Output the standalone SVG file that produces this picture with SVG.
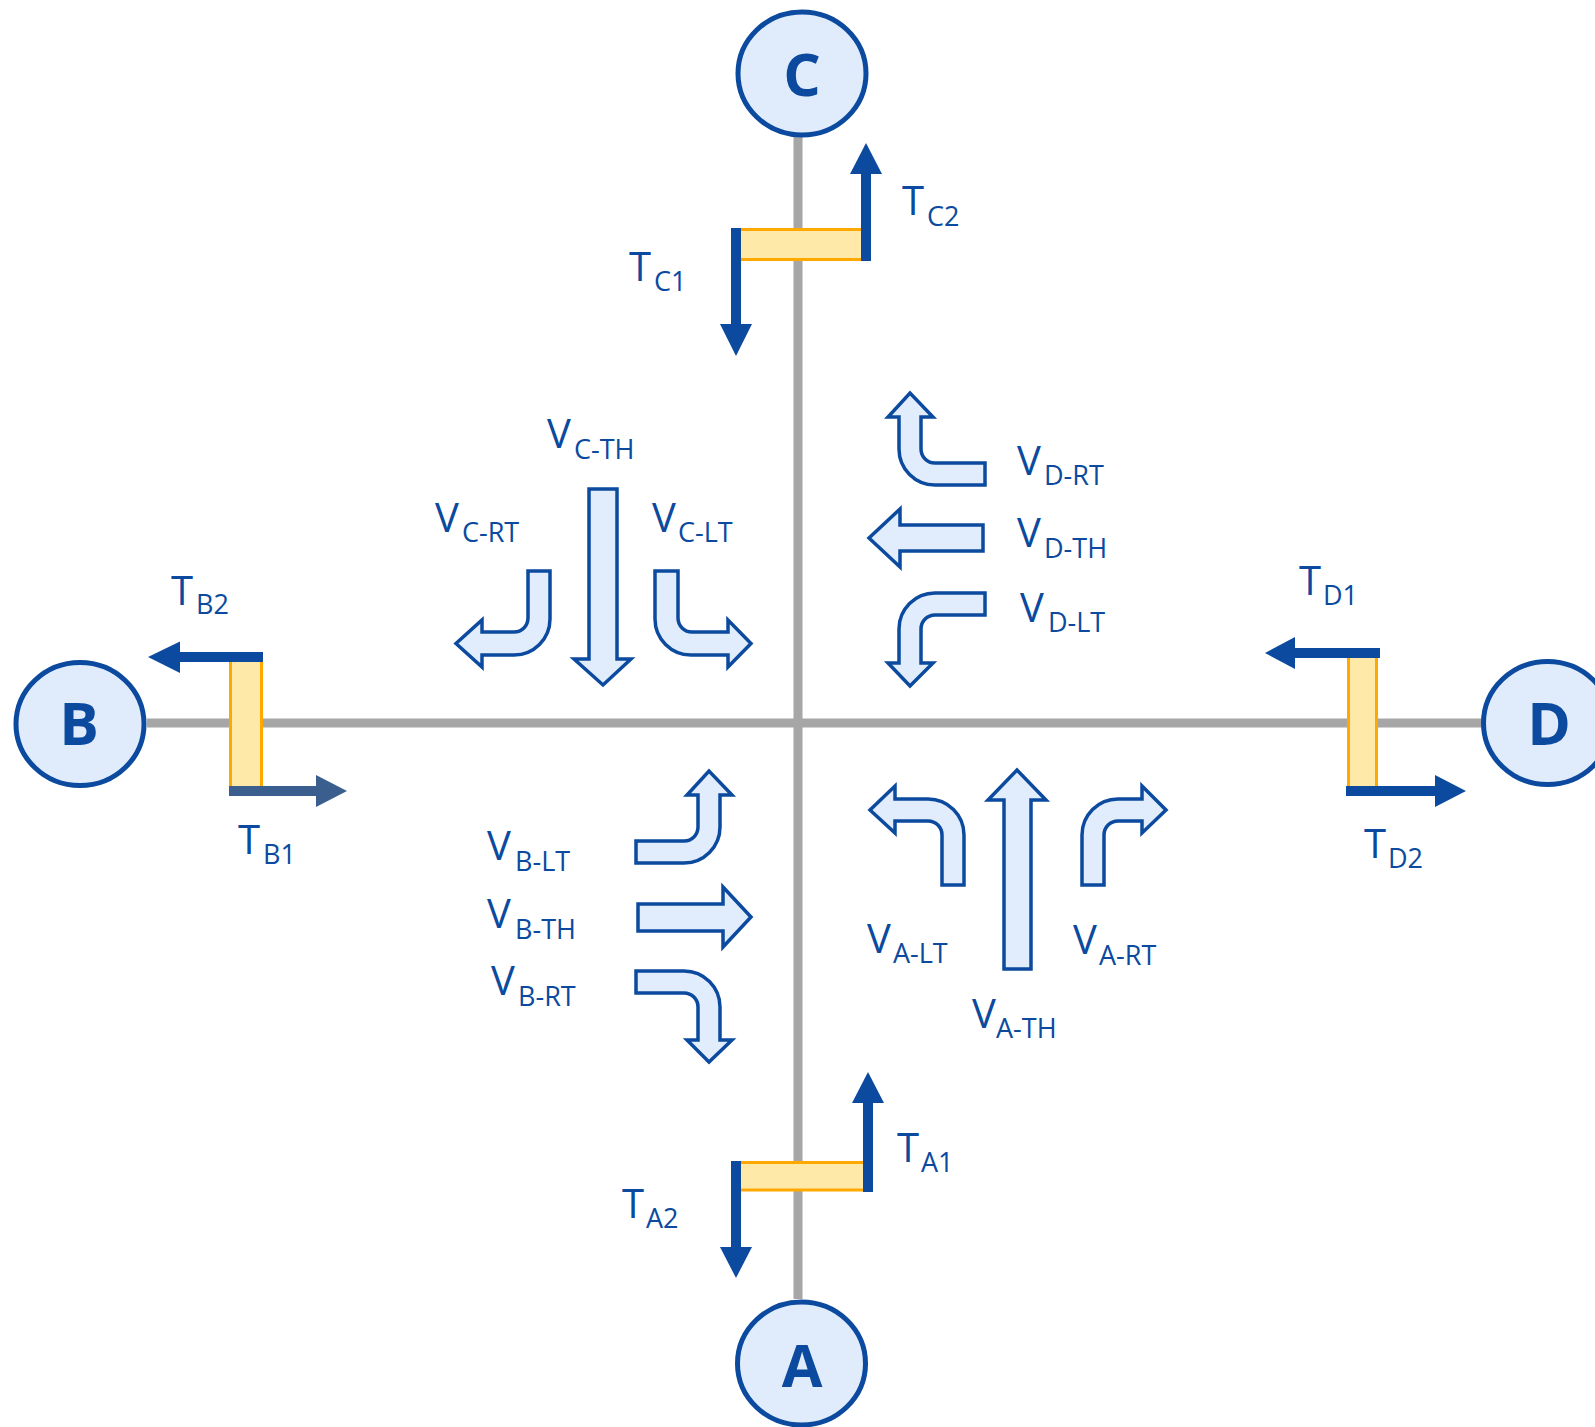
<svg xmlns="http://www.w3.org/2000/svg" width="1595" height="1427" viewBox="0 0 1595 1427">
<style>
.road{stroke:#A6A6A6;stroke-width:9;fill:none}
.node ellipse{fill:#E0ECFB;stroke:#0B4A9E;stroke-width:5}
.node text{font-family:"Open Sans","Noto Sans",sans-serif;font-weight:bold;font-size:59px;fill:#0B4A9E;text-anchor:middle}
.det{fill:#FFE9A8;stroke:#FFA800;stroke-width:3}
.bar{stroke:#0B4A9E;stroke-width:10;fill:none}
.head{fill:#0B4A9E}
.bar2{stroke:#3A5F8F;stroke-width:10;fill:none}
.head2{fill:#3A5F8F}
.blk{fill:#E1EDFC;stroke:#0B4A9E;stroke-width:3.5;stroke-linejoin:miter}
.lbl{font-family:"Open Sans","Noto Sans",sans-serif;font-size:40px;fill:#0B4A9E}
.sub{font-size:27px}
</style>
<g id="roads">
<line class="road" x1="798" y1="137" x2="798" y2="1299"/>
<line class="road" x1="147" y1="723" x2="1482" y2="723"/>
</g>
<g id="node-C" class="node"><ellipse cx="802" cy="73.5" rx="64" ry="61.5"/><text x="802" y="96">C</text></g>
<g id="node-B" class="node"><ellipse cx="80" cy="724" rx="64" ry="61.5"/><text x="79" y="745">B</text></g>
<g id="node-D" class="node"><ellipse cx="1547.5" cy="723" rx="64" ry="61.5"/><text x="1549" y="745">D</text></g>
<g id="node-A" class="node"><ellipse cx="801.5" cy="1363.5" rx="64" ry="61.5"/><text x="802" y="1387">A</text></g>

<g id="detector-C">
<rect class="det" x="733" y="229.5" width="136" height="30"/>
<line class="bar" x1="736" y1="228" x2="736" y2="326"/><polygon class="head" points="720,324 752,324 736,356"/>
<line class="bar" x1="866" y1="261" x2="866" y2="172"/><polygon class="head" points="850,174 882,174 866,143"/>
</g>
<g id="detector-B">
<rect class="det" x="230.5" y="657" width="31" height="133"/>
<line class="bar" x1="263" y1="657" x2="178" y2="657"/><polygon class="head" points="180,641.5 180,673 148,657"/>
<line class="bar2" x1="229" y1="791" x2="318" y2="791"/><polygon class="head2" points="316,775 316,807 347,791"/>
</g>
<g id="detector-D">
<rect class="det" x="1348.5" y="653" width="28" height="137"/>
<line class="bar" x1="1380" y1="653" x2="1293" y2="653"/><polygon class="head" points="1295,637 1295,669 1265,653"/>
<line class="bar" x1="1346" y1="791" x2="1437" y2="791"/><polygon class="head" points="1435,775 1435,807 1466,791"/>
</g>
<g id="detector-A">
<rect class="det" x="733.5" y="1162.5" width="138" height="27.5"/>
<line class="bar" x1="736" y1="1161" x2="736" y2="1249"/><polygon class="head" points="720,1247 752,1247 736,1278"/>
<line class="bar" x1="868" y1="1192" x2="868" y2="1101"/><polygon class="head" points="852,1103 884,1103 868,1072"/>
</g>

<g id="movements">
<path id="C-TH" class="blk" d="M589,489 H617 V659 H631 L603,685 L574,659 H589 Z"/>
<path id="C-RT" class="blk" d="M528,571 H550 V619 A36,36 0 0 1 514,655 H482 V667 L456,643.5 L482,620 V632 H514 A14,14 0 0 0 528,618 Z"/>
<path id="C-LT" class="blk" d="M655,571 H678 V618 A14,14 0 0 0 692,632 H728 V620 L751,643.5 L728,667 V655 H691 A36,36 0 0 1 655,619 Z"/>
<path id="D-RT" class="blk" d="M985,463 V485 H935 A36,36 0 0 1 899,449 V417 H888 L910,393 L933,417 H921 V449 A14,14 0 0 0 935,463 Z"/>
<path id="D-TH" class="blk" d="M983,525 V551 H900 V567 L869,538 L900,509 V525 Z"/>
<path id="D-LT" class="blk" d="M985,593 V615 H935 A14,14 0 0 0 921,629 V663 H933 L910,686 L888,663 H899 V629 A36,36 0 0 1 935,593 Z"/>
<path id="B-LT" class="blk" d="M636,841 H684 A14,14 0 0 0 698,827 V795 H687 L709,771 L732,795 H720 V827 A36,36 0 0 1 684,863 H636 Z"/>
<path id="B-TH" class="blk" d="M638,904 H723 V887 L751,917 L723,947 V931 H638 Z"/>
<path id="B-RT" class="blk" d="M636,971 H684 A36,36 0 0 1 720,1007 V1040 H732 L709,1062 L687,1040 H698 V1007 A14,14 0 0 0 684,993 H636 Z"/>
<path id="A-LT" class="blk" d="M942,885 V835 A14,14 0 0 0 928,821 H895 V833 L870,810 L895,786 V799 H928 A36,36 0 0 1 964,835 V885 Z"/>
<path id="A-TH" class="blk" d="M1004,969 V800 H988 L1017,770 L1046,800 H1031 V969 Z"/>
<path id="A-RT" class="blk" d="M1082,885 V835 A36,36 0 0 1 1118,799 H1142 V786 L1166,810 L1142,833 V821 H1118 A14,14 0 0 0 1104,835 V885 Z"/>
</g>

<g id="labels" class="lbl">
<text x="902" y="215">T<tspan class="sub" x="927" y="226">C2</tspan></text>
<text x="629" y="281">T<tspan class="sub" x="654" y="291">C1</tspan></text>
<text x="171" y="605">T<tspan class="sub" x="196" y="614">B2</tspan></text>
<text x="238" y="854">T<tspan class="sub" x="263" y="864">B1</tspan></text>
<text x="1299" y="595">T<tspan class="sub" x="1323" y="605">D1</tspan></text>
<text x="1364" y="858">T<tspan class="sub" x="1388" y="868">D2</tspan></text>
<text x="897" y="1162">T<tspan class="sub" x="921" y="1172">A1</tspan></text>
<text x="622" y="1218">T<tspan class="sub" x="646" y="1228">A2</tspan></text>
<text x="547" y="448">V<tspan class="sub" x="574" y="459">C-TH</tspan></text>
<text x="435" y="532">V<tspan class="sub" x="462" y="542">C-RT</tspan></text>
<text x="652" y="532">V<tspan class="sub" x="678" y="542">C-LT</tspan></text>
<text x="1017" y="475">V<tspan class="sub" x="1044" y="485">D-RT</tspan></text>
<text x="1017" y="547">V<tspan class="sub" x="1044" y="558">D-TH</tspan></text>
<text x="1020" y="622">V<tspan class="sub" x="1048" y="632">D-LT</tspan></text>
<text x="487" y="860">V<tspan class="sub" x="515" y="871">B-LT</tspan></text>
<text x="487" y="928">V<tspan class="sub" x="515" y="939">B-TH</tspan></text>
<text x="491" y="995">V<tspan class="sub" x="518" y="1006">B-RT</tspan></text>
<text x="867" y="953">V<tspan class="sub" x="893" y="963">A-LT</tspan></text>
<text x="1073" y="954">V<tspan class="sub" x="1099" y="965">A-RT</tspan></text>
<text x="972" y="1028">V<tspan class="sub" x="996" y="1038">A-TH</tspan></text>
</g>
</svg>
